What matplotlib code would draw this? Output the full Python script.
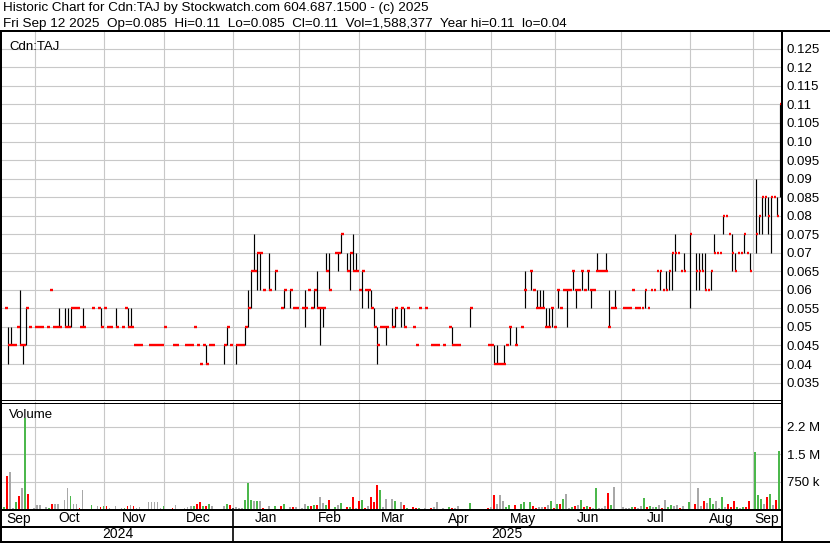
import numpy as np
import pandas as pd
import matplotlib
matplotlib.use('Agg')
import matplotlib.pyplot as plt
from matplotlib.lines import Line2D
from matplotlib.transforms import blended_transform_factory

plt.rcParams['font.family'] = ['Liberation Sans', 'DejaVu Sans']

n = np.nan

# trading days shown on the chart (weekdays)
dates = pd.bdate_range('2024-09-17', '2025-09-12')

# daily close (nan = no bar)
close = [
    .055, .045, .045, .045, .05, .045, .045, .055, .05, n,
    .05, .05, .05, n, .05, .06, .05, .05, .05, n,
    .05, .05, .055, .055, .055, .05, .05, n, n, .055,
    n, .055, .05, .055, .05, .05, n, .05, n, .05,
    .055, .05, .05, .045, .045, .045, n, n, .045, .045,
    .045, .045, .045, .05, n, n, .045, .045, n, n,
    .045, .045, .045, .05, .045, .04, .045, .04, .045, .045,
    n, n, n, .045, .05, .045, n, .045, .045, .045,
    .05, .055, .065, .065, .07, .07, .06, n, .06, n,
    .065, n, .055, .06, n, .06, .055, .055, n, .055,
    .055, .06, .055, .06, .055, .055, .055, .065, .06, n,
    .07, .07, .075, n, .065, .07, .065, .065, .06, .065,
    .06, .06, .055, .05, .045, .05, .05, .05, n, .05,
    .055, n, .055, .05, .055, n, .05, .045, .055, n,
    .055, n, .045, .045, .045, n, .045, n, .05, .045,
    .045, .045, n, n, n, .055, n, n, n, n,
    n, .045, .045, .04, .04, .04, .04, .045, .05, n,
    .045, n, .05, .06, n, .065, .06, .055, .055, .055,
    .05, .05, .055, .05, .06, .055, .06, .06, .06, .065,
    .06, .06, .065, .06, .065, .06, .06, .065, .065, .065,
    .065, .05, .055, .055, n, n, .055, .055, .055, .06,
    .055, .055, .055, .06, .055, .06, .06, .065, .065, .06,
    .06, .065, .07, .07, .07, .065, .065, n, .075, n,
    .065, .065, .065, .06, .06, .065, .07, .07, .07, .08,
    .08, .075, .07, .065, .07, .07, .075, .07, .065, n,
    .075, .08, .085, .085, .08, .085, .085, .08, .11,
]

# days that traded over a range, with their high and low
range_days = [1, 2, 5, 6, 7, 18, 20, 21, 22, 26, 32, 37, 41, 42, 67, 73, 74, 77, 80, 81,
              82, 83, 84, 85, 88, 90, 93, 95, 100, 103, 104, 105, 106, 107, 108, 111, 112, 114, 115, 116,
              117, 119, 121, 122, 123, 124, 127, 129, 130, 132, 133, 149, 155, 163, 164, 166, 168, 170, 173, 175,
              177, 178, 179, 180, 181, 182, 184, 187, 189, 190, 192, 194, 195, 197, 200, 201, 203, 213, 218, 220,
              221, 222, 223, 226, 228, 230, 231, 232, 233, 235, 236, 239, 242, 243, 246, 248, 250, 251, 252, 253,
              254, 255, 257, 258]
range_high = [.05, .05, .06, .045, .055, .055, .055, .055, .055, .055, .055, .055, .055, .055, .045, .045, .05, .045, .05, .06,
              .065, .075, .07, .07, .07, .065, .06, .06, .06, .06, .065, .055, .055, .07, .07, .07, .075, .07, .07, .075,
              .07, .065, .06, .06, .055, .05, .05, .055, .055, .055, .055, .05, .055, .045, .045, .045, .05, .05, .065, .065,
              .06, .06, .06, .055, .055, .055, .06, .06, .065, .06, .065, .065, .06, .07, .07, .06, .06, .06, .065, .065,
              .065, .07, .075, .07, .075, .07, .07, .07, .07, .065, .075, .08, .075, .07, .075, .07, .09, .08, .085, .085,
              .085, .085, .085, .11]
range_low = [.04, .045, .045, .04, .045, .05, .05, .05, .05, .05, .05, .05, .05, .05, .04, .04, .045, .04, .045, .05,
             .055, .065, .06, .06, .06, .06, .055, .055, .05, .055, .055, .045, .05, .065, .06, .065, .07, .065, .06, .065,
             .065, .055, .055, .055, .05, .04, .045, .05, .05, .05, .05, .045, .05, .04, .04, .04, .045, .045, .055, .06,
             .055, .055, .055, .05, .05, .05, .055, .05, .06, .055, .06, .06, .055, .065, .065, .05, .055, .055, .06, .06,
             .06, .06, .065, .065, .055, .06, .06, .065, .06, .06, .07, .075, .065, .065, .07, .065, .07, .075, .075, .08,
             .075, .07, .08, .085]

# daily volume, thousands of shares
volume = [
    65, 900, 1000, 30, 180, 365, 585, 2500, 400, 0,
    40, 120, 120, 0, 55, 40, 130, 140, 150, 0,
    255, 570, 345, 130, 130, 40, 530, 0, 0, 100,
    0, 90, 65, 80, 90, 35, 0, 90, 0, 35,
    35, 80, 120, 75, 35, 65, 0, 0, 180, 180,
    180, 180, 35, 90, 0, 0, 35, 120, 0, 0,
    35, 55, 90, 75, 130, 200, 90, 75, 145, 90,
    0, 0, 0, 90, 145, 100, 0, 55, 35, 35,
    250, 720, 250, 230, 230, 230, 35, 0, 90, 0,
    90, 0, 90, 145, 0, 65, 45, 65, 0, 35,
    145, 90, 90, 120, 120, 340, 175, 120, 255, 0,
    65, 120, 175, 0, 65, 65, 340, 35, 230, 255,
    35, 90, 340, 200, 665, 530, 65, 285, 0, 285,
    230, 0, 200, 120, 35, 0, 65, 35, 35, 0,
    35, 0, 35, 65, 200, 0, 35, 0, 65, 35,
    35, 90, 0, 0, 0, 175, 0, 0, 0, 0,
    0, 35, 65, 395, 145, 395, 230, 65, 120, 0,
    120, 0, 145, 200, 0, 200, 90, 35, 55, 65,
    65, 120, 230, 35, 145, 145, 285, 420, 35, 65,
    90, 120, 255, 65, 90, 65, 30, 585, 35, 35,
    90, 450, 120, 610, 0, 0, 65, 35, 35, 65,
    65, 35, 90, 310, 65, 90, 65, 65, 120, 35,
    255, 65, 120, 90, 120, 35, 90, 0, 200, 0,
    145, 585, 90, 230, 175, 310, 145, 230, 35, 340,
    65, 145, 65, 230, 65, 35, 65, 65, 230, 0,
    1550, 395, 285, 145, 340, 420, 120, 255, 1588,
]
prev_close = 0.05

price_ticks = [0.035, 0.04, 0.045, 0.05, 0.055, 0.06, 0.065, 0.07, 0.075, 0.08,
               0.085, 0.09, 0.095, 0.10, 0.105, 0.11, 0.115, 0.12, 0.125]
vol_ticks = [750000, 1500000, 2250000]
vol_labels = ['750 k', '1.5 M', '2.2 M']

header1 = 'Historic Chart for Cdn:TAJ by Stockwatch.com 604.687.1500 - (c) 2025'
header2 = ('Fri Sep 12 2025  Op=0.085  Hi=0.11  Lo=0.085  Cl=0.11  '
           'Vol=1,588,377  Year hi=0.11  lo=0.04')

W, H = 830, 543
fig = plt.figure(figsize=(W / 100, H / 100), dpi=100)


def rect(l, t, r, b):
    return [l / W, 1 - b / H, (r - l) / W, (b - t) / H]


ax = fig.add_axes(rect(2, 31, 781, 400))
axv = fig.add_axes(rect(2, 402, 781, 509))
frame = fig.add_axes([0, 0, 1, 1], zorder=10)
frame.set_xlim(0, W)
frame.set_ylim(H, 0)
frame.axis('off')
frame.patch.set_alpha(0)

close = np.array(close, dtype=float)
idx = np.arange(len(close))
xmin, xmax = -0.99, 258.4

month_starts = pd.date_range('2024-10-01', '2025-09-01', freq='MS')
grid_idx = [dates.searchsorted(d, side='right') - 1 for d in month_starts]

grid_kw = dict(color='#c8c8c8', lw=0.8)
for a in (ax, axv):
    a.set_xlim(xmin, xmax)
    a.set_xticks(grid_idx)
    a.set_xticklabels([])
    a.tick_params(axis='x', length=0)
    a.yaxis.tick_right()
    a.tick_params(axis='y', length=0, pad=4, labelsize=9.5)
    a.grid(True, **grid_kw)
    a.set_axisbelow(True)
    for s in a.spines.values():
        s.set_visible(False)

# price panel
ax.set_ylim(0.0303, 0.1298)
ax.set_yticks(price_ticks)
ax.set_yticklabels([f'{v:.3f}'.rstrip('0') if len(f'{v:.3f}'.rstrip('0')) > 3 else f'{v:.2f}'
                    for v in price_ticks])
ax.vlines(range_days, range_low, range_high, color='black', lw=0.85, zorder=2)
ok = ~np.isnan(close)
ax.hlines(close[ok], idx[ok] - 0.05, idx[ok] + 0.9, color='#ff0000', lw=1.7, zorder=3)
ax.text(0.009, 0.972, 'Cdn:TAJ', transform=ax.transAxes, fontsize=9.5, va='top', ha='left')

# volume panel
vol = np.array(volume, dtype=float) * 1000
colors = []
last = prev_close
for c in close:
    if np.isnan(c):
        colors.append('#a8a8a8')
        continue
    colors.append('#4cb84c' if c > last else ('#ff0000' if c < last else '#a8a8a8'))
    last = c
axv.bar(idx - 0.2, vol, width=0.62, color=colors, zorder=2, linewidth=0)
axv.set_ylim(0, 2.93e6)
axv.set_yticks(vol_ticks)
axv.set_yticklabels(vol_labels)
axv.text(0.009, 0.93, 'Volume', transform=axv.transAxes, fontsize=9.5, va='top', ha='left')


# frame lines (pixel coordinates)
def line(x0, y0, x1, y1, px):
    frame.add_line(Line2D([x0, x1], [y0, y1], color='black', lw=px * 0.72,
                          solid_capstyle='butt'))


line(0, 31, W, 31, 2)
line(1, 31, 1, H, 2)
line(781.5, 31, 781.5, H, 2)
line(0, 400, 781, 400, 1)
line(0, 402.5, 781, 402.5, 1)
line(0, 509.5, 781, 509.5, 2)
line(0, 527, 781, 527, 2)
line(0, 542, W, 542, 2)

# date rows
bt = blended_transform_factory(ax.transData, frame.transData)
edges = [xmin] + grid_idx + [xmax]
month_names = [dates[0].strftime('%b')] + [d.strftime('%b') for d in month_starts]
for k, name in enumerate(month_names):
    frame.text((edges[k] + edges[k + 1]) / 2, 518.5, name, transform=bt,
               ha='center', va='center', fontsize=10)
jan = [k for k, d in enumerate(month_starts) if d.month == 1][0]
ysplit = grid_idx[jan]
frame.add_line(Line2D([ysplit, ysplit], [509, 542], transform=bt, color='black', lw=1.2))
frame.text((xmin + ysplit) / 2, 534.5, str(dates[0].year), transform=bt,
           ha='center', va='center', fontsize=10)
frame.text((ysplit + xmax) / 2, 534.5, str(dates[-1].year), transform=bt,
           ha='center', va='center', fontsize=10)

frame.text(3, 8.5, header1, fontsize=9.7, va='center', ha='left')
frame.text(3, 23.5, header2, fontsize=9.7, va='center', ha='left')

fig.savefig('out.png', dpi=100)
